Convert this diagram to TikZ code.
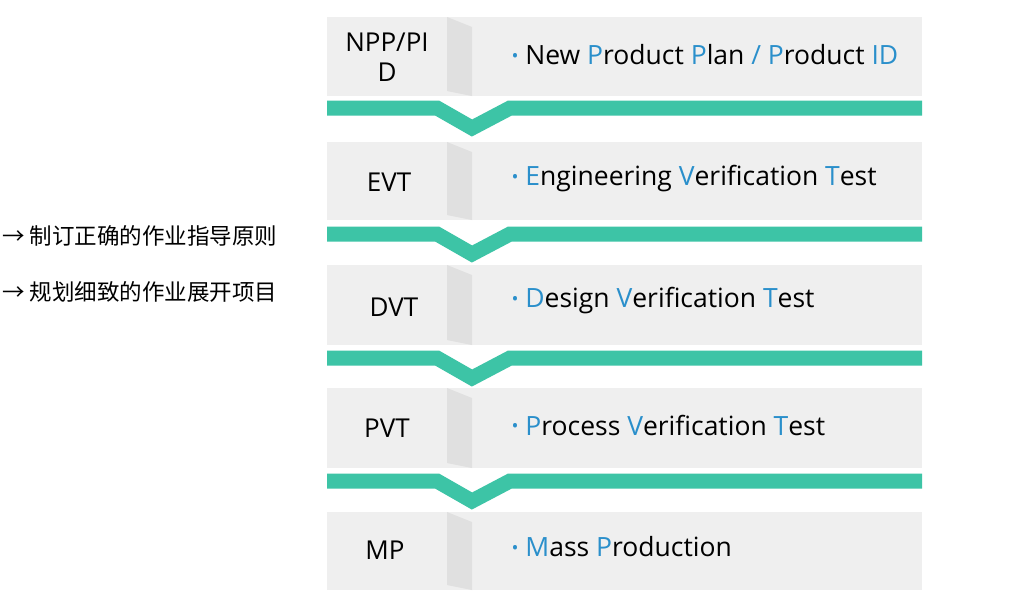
\documentclass[tikz,border=0pt]{standalone}
\usepackage{fontspec}
\setmainfont{Open Sans}
\newfontfamily\cjk{Noto Sans CJK SC}
\definecolor{teal1}{HTML}{3DC4A6}
\definecolor{blue1}{HTML}{2A8FCB}
\definecolor{panel}{HTML}{EFEFEF}
\definecolor{fold}{HTML}{E0E0E0}
\newcommand{\hl}[1]{\textcolor{blue1}{#1}}
\newcommand{\dotmark}{\textcolor{blue1}{\raisebox{0.2ex}{\scalebox{0.7}{\textbullet}}}\ }
\begin{document}
\begin{tikzpicture}[x=1pt,y=-1pt]
\tikzstyle{stage}=[font=\fontsize{26}{30}\selectfont,align=center,text width=110pt]
\tikzstyle{desc}=[font=\fontsize{26.5}{28}\selectfont,anchor=west]
\tikzstyle{note}=[font=\cjk\fontsize{22.5}{24}\selectfont,anchor=west,inner sep=2pt]
\tikzstyle{bar}=[teal1,line width=15pt,line join=miter]
\useasboundingbox[fill=white] (0,0) rectangle (1024,608);

% panels
\foreach \t/\b in {17/96,142/220,265/345,388/468,512/590}{
  \fill[panel] (327,\t) rectangle (922,\b);
  \fill[fold] (447,\t) -- (472,\t+10) -- (472,\b) -- (447,\b-5) -- cycle;
}

% bars
\foreach \y in {108,234,358,481}{
  \draw[bar] (327,\y) -- (437,\y) -- (472,\y+20) -- (510,\y) -- (922,\y);
}

\node[stage] (npp) at (387,57) {NPP/PI\\D};
\node[stage] (evt) at (389,182) {EVT};
\node[stage] (dvt) at (394,307) {DVT};
\node[stage] (pvt) at (387,428) {PVT};
\node[stage] (mp) at (385,550) {MP};

\node[desc] (dnpp) at (508,55) {\dotmark New \hl{P}roduct \hl{P}lan \hl{/} \hl{P}roduct \hl{ID}};
\node[desc] (devt) at (508,179) {\dotmark\hl{E}ngineering \hl{V}erification \hl{T}est};
\node[desc] (ddvt) at (508,301) {\dotmark\hl{D}esign \hl{V}erification \hl{T}est};
\node[desc] (dpvt) at (508,425) {\dotmark\hl{P}rocess \hl{V}erification \hl{T}est};
\node[desc] (dmp) at (508,547) {\dotmark\hl{M}ass \hl{P}roduction};

\node[note] (n1) at (0,236) {→ 制订正确的作业指导原则};
\node[note] (n2) at (0,292) {→ 规划细致的作业展开项目};
\end{tikzpicture}
\end{document}
